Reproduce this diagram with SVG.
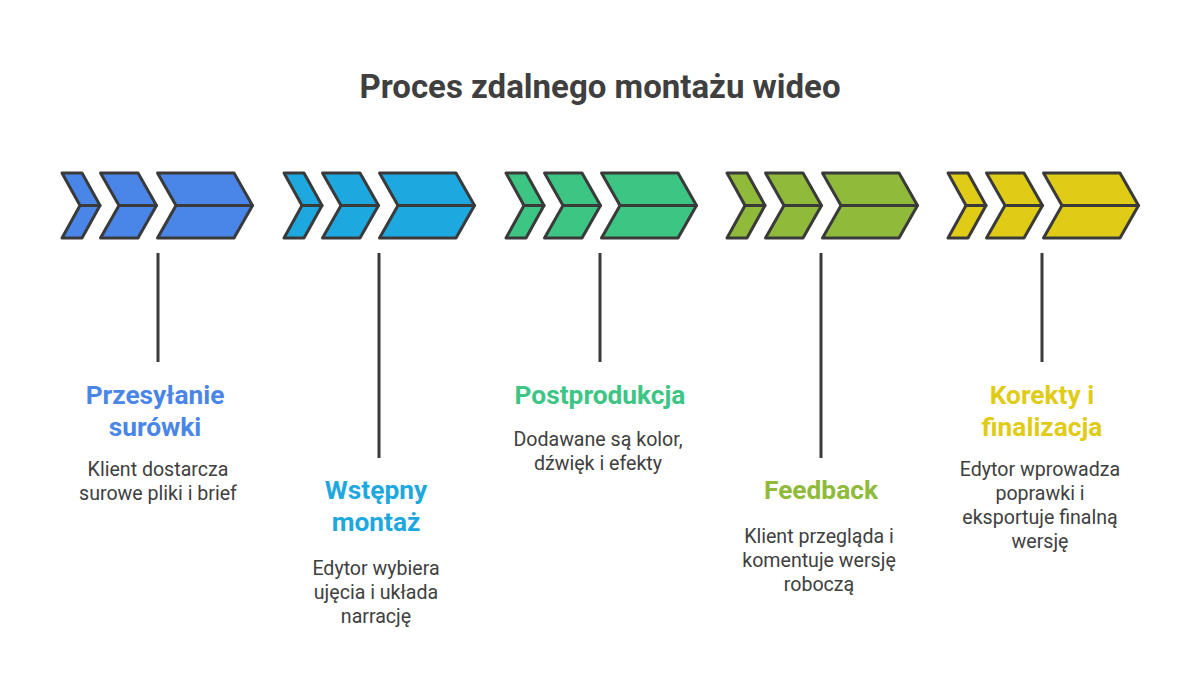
<svg xmlns="http://www.w3.org/2000/svg" width="1200" height="695" viewBox="0 0 1200 695">
<style>
.ch{stroke:#3a3a3a;stroke-width:3;stroke-linejoin:round}
.mid{stroke:#3a3a3a;stroke-width:3;stroke-linecap:round}
.conn{stroke:#3a3a3a;stroke-width:3}
.title{font-family:Roboto,"Liberation Sans",sans-serif;font-weight:700;font-size:33px;fill:#3f3f3f;text-anchor:middle}
.h{font-family:Roboto,"Liberation Sans",sans-serif;font-weight:700;font-size:26.3px;text-anchor:middle}
.d{font-family:Roboto,"Liberation Sans",sans-serif;font-size:19.6px;fill:#404040;text-anchor:middle}
</style>
<defs>
<g id="chev">
<path class="ch" d="M0,173 H20 L38,205.5 L20,238 H0 L18,205.5 Z"/>
<line class="mid" x1="18" y1="205.5" x2="38" y2="205.5"/>
<path class="ch" d="M38.5,173 H76 L94.5,205.5 L76,238 H38.5 L57,205.5 Z"/>
<line class="mid" x1="57" y1="205.5" x2="94.5" y2="205.5"/>
<path class="ch" d="M95.5,173 H172 L190.5,205.5 L172,238 H95.5 L114,205.5 Z"/>
<line class="mid" x1="114" y1="205.5" x2="190.5" y2="205.5"/>
</g>
</defs>
<rect width="1200" height="695" fill="#ffffff"/>
<text class="title" x="600" y="98">Proces zdalnego montażu wideo</text>
<g id="connectors">
<line class="conn" x1="158" y1="253" x2="158" y2="362"/>
<line class="conn" x1="379" y1="253" x2="379" y2="458"/>
<line class="conn" x1="600" y1="253" x2="600" y2="362"/>
<line class="conn" x1="821" y1="253" x2="821" y2="458"/>
<line class="conn" x1="1042" y1="253" x2="1042" y2="362"/>
</g>
<g id="step1">
<use href="#chev" x="62" fill="#4a86e8"/>
<text class="h" fill="#4a86e8" x="155" y="404">Przesyłanie</text>
<text class="h" fill="#4a86e8" x="155" y="436">surówki</text>
<text class="d" x="158" y="476">Klient dostarcza</text>
<text class="d" x="158" y="500">surowe pliki i brief</text>
</g>
<g id="step2">
<use href="#chev" x="284" fill="#1ea8e0"/>
<text class="h" fill="#1ea8e0" x="376" y="499">Wstępny</text>
<text class="h" fill="#1ea8e0" x="376" y="531">montaż</text>
<text class="d" x="376" y="575">Edytor wybiera</text>
<text class="d" x="376" y="599">ujęcia i układa</text>
<text class="d" x="376" y="623">narrację</text>
</g>
<g id="step3">
<use href="#chev" x="506" fill="#3cc583"/>
<text class="h" fill="#3cc583" x="600" y="404">Postprodukcja</text>
<text class="d" x="598" y="446">Dodawane są kolor,</text>
<text class="d" x="598" y="470">dźwięk i efekty</text>
</g>
<g id="step4">
<use href="#chev" x="727" fill="#8fba3a"/>
<text class="h" fill="#8fba3a" x="821" y="499">Feedback</text>
<text class="d" x="819" y="543">Klient przegląda i</text>
<text class="d" x="819" y="567">komentuje wersję</text>
<text class="d" x="819" y="591">roboczą</text>
</g>
<g id="step5">
<use href="#chev" x="948" fill="#e0cc17"/>
<text class="h" fill="#e0cc17" x="1042" y="404">Korekty i</text>
<text class="h" fill="#e0cc17" x="1042" y="436">finalizacja</text>
<text class="d" x="1040" y="476">Edytor wprowadza</text>
<text class="d" x="1040" y="500">poprawki i</text>
<text class="d" x="1040" y="524">eksportuje finalną</text>
<text class="d" x="1040" y="548">wersję</text>
</g>
</svg>
